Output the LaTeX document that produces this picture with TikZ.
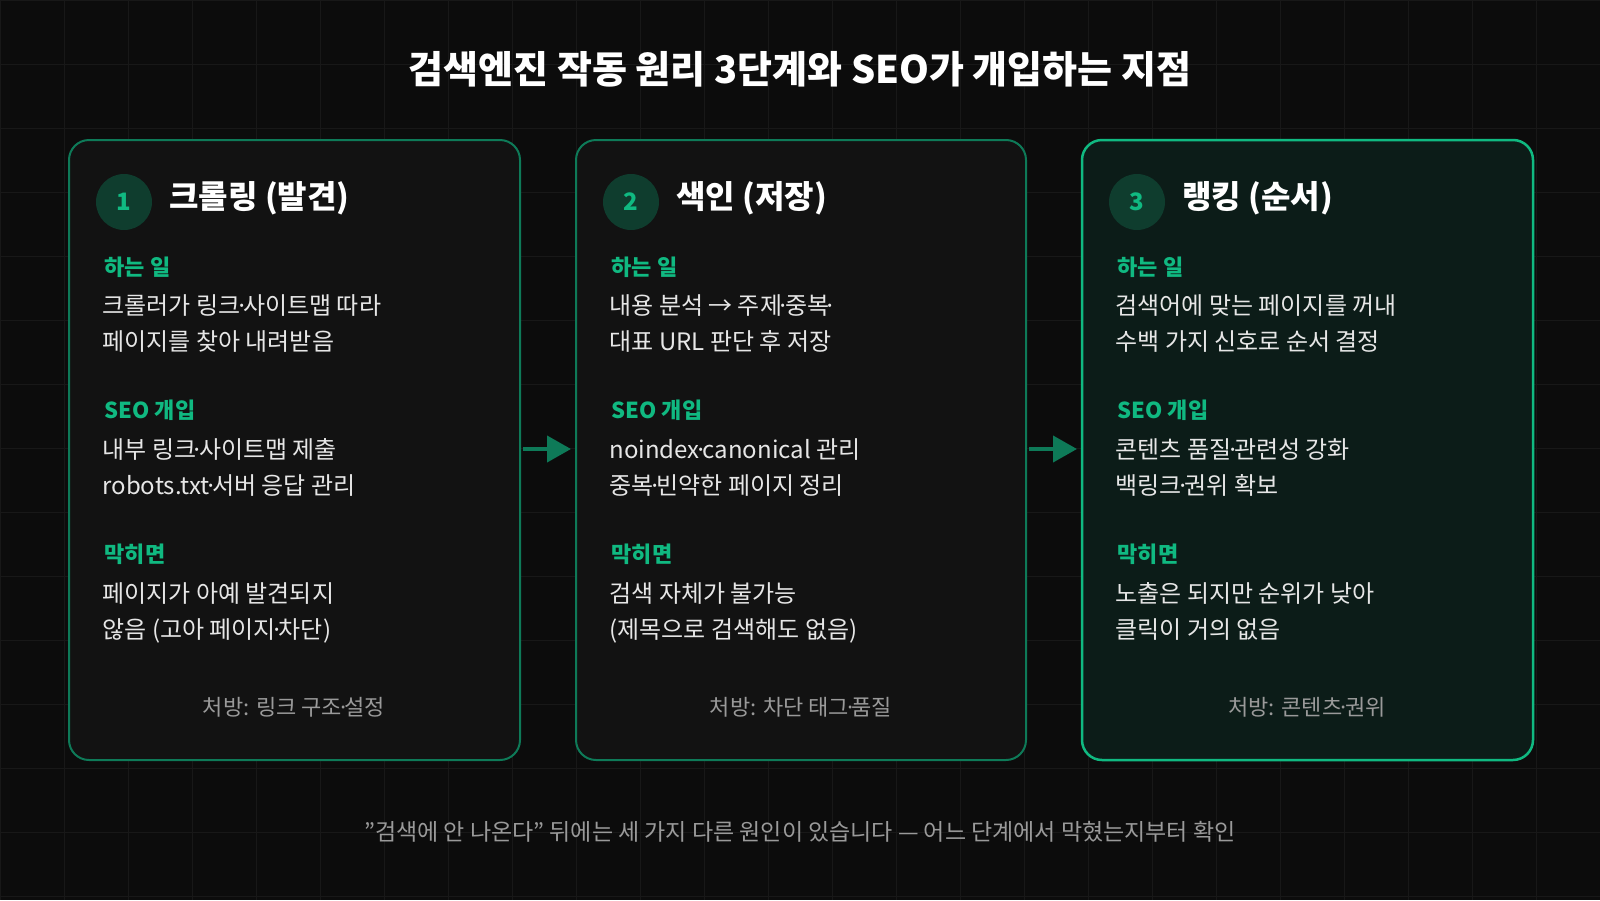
\documentclass[tikz,border=0pt]{standalone}
\usepackage{fontspec}
\setmainfont{Noto Sans CJK KR}
\usetikzlibrary{arrows.meta,calc}
\newcommand\md{\kern-0.22em·\kern-0.22em}
\definecolor{bg}{HTML}{0C0C0C}
\definecolor{gridc}{HTML}{181818}
\definecolor{card}{HTML}{121212}
\definecolor{cardg}{HTML}{0C1C18}
\definecolor{acc}{HTML}{10B981}
\definecolor{bord}{HTML}{0E7A58}
\definecolor{circ}{HTML}{0F3D2E}
\definecolor{txt}{HTML}{E6E6E6}
\definecolor{mut}{HTML}{9A9A9A}
\tikzset{
 card/.style={draw=bord,line width=2pt,fill=card,rounded corners=20pt},
 hl/.style={anchor=west,text=acc,font=\fontsize{22}{24}\selectfont\bfseries},
 body/.style={anchor=north west,text=txt,align=left,font=\fontsize{24}{36}\selectfont},
 num/.style={circle,fill=circ,minimum size=56pt,text=acc,font=\fontsize{24}{28}\selectfont\bfseries},
 head/.style={anchor=west,text=white,font=\fontsize{32}{36}\selectfont\bfseries},
 rx/.style={anchor=center,text=mut,font=\fontsize{22}{24}\selectfont},
 arr/.style={draw=bord,line width=4pt,-{Triangle[length=24pt,width=26pt]},shorten <=3pt,shorten >=5pt}
}
\begin{document}
\begin{tikzpicture}[x=1pt,y=-1pt]
\fill[bg] (0,0) rectangle (1600,900);
\useasboundingbox (0,0) rectangle (1600,900);
\foreach \i in {0,64,...,1600} \draw[gridc,line width=1pt] (\i,0) -- (\i,900);
\foreach \j in {0,64,...,900} \draw[gridc,line width=1pt] (0,\j) -- (1600,\j);
\node[text=white,font=\fontsize{38}{42}\selectfont\bfseries] (title) at (800,69) {검색엔진 작동 원리 3단계와 SEO가 개입하는 지점};
\draw[card] (69,140) rectangle (520,760); \coordinate (c1) at (69,140);
\draw[card] (576,140) rectangle (1026,760); \coordinate (c2) at (576,140);
\draw[card,fill=cardg,draw=acc,line width=2.5pt] (1082,140) rectangle (1533,760); \coordinate (c3) at (1082,140);
\coordinate (b1) at (520,449);
\coordinate (b2) at (576,449);
\coordinate (b3) at (1026,449);
\coordinate (b4) at (1082,449);
\draw[arr] (b1) -- (b2);
\draw[arr] (b3) -- (b4);
\foreach \c/\n/\h/\a/\b/\cc/\rx in {
 c1/1/크롤링 (발견)/{크롤러가 링크\md 사이트맵 따라\\페이지를 찾아 내려받음}/{내부 링크\md 사이트맵 제출\\robots.txt\md 서버 응답 관리}/{페이지가 아예 발견되지\\않음 (고아 페이지\md 차단)}/{처방: 링크 구조\md 설정},
 c2/2/색인 (저장)/{내용 분석 → 주제\md 중복\md\\대표 URL 판단 후 저장}/{noindex\md canonical 관리\\중복\md 빈약한 페이지 정리}/{검색 자체가 불가능\\(제목으로 검색해도 없음)}/{처방: 차단 태그\md 품질},
 c3/3/랭킹 (순서)/{검색어에 맞는 페이지를 꺼내\\수백 가지 신호로 순서 결정}/{콘텐츠 품질\md 관련성 강화\\백링크\md 권위 확보}/{노출은 되지만 순위가 낮아\\클릭이 거의 없음}/{처방: 콘텐츠\md 권위}}{
 \node[num] (n\n) at ($(\c)+(55,62)$) {\n};
 \node[head] (h\n) at ($(\c)+(97,58)$) {\h};
 \node[hl] (l1\n) at ($(\c)+(32,127)$) {하는 일};
 \node[body] (t1\n) at ($(\c)+(30,151)$) {\a};
 \node[hl] (l2\n) at ($(\c)+(32,270)$) {SEO 개입};
 \node[body] (t2\n) at ($(\c)+(30,295)$) {\b};
 \node[hl] (l3\n) at ($(\c)+(32,414)$) {막히면};
 \node[body] (t3\n) at ($(\c)+(30,439)$) {\cc};
 \node[rx] (r\n) at ($(\c)+(225,567)$) {\rx};
}
\node[text=mut,font=\fontsize{23}{26}\selectfont] (foot) at (800,832) {\symbol{34}검색에 안 나온다\symbol{34} 뒤에는 세 가지 다른 원인이 있습니다 — 어느 단계에서 막혔는지부터 확인};
\end{tikzpicture}
\end{document}
